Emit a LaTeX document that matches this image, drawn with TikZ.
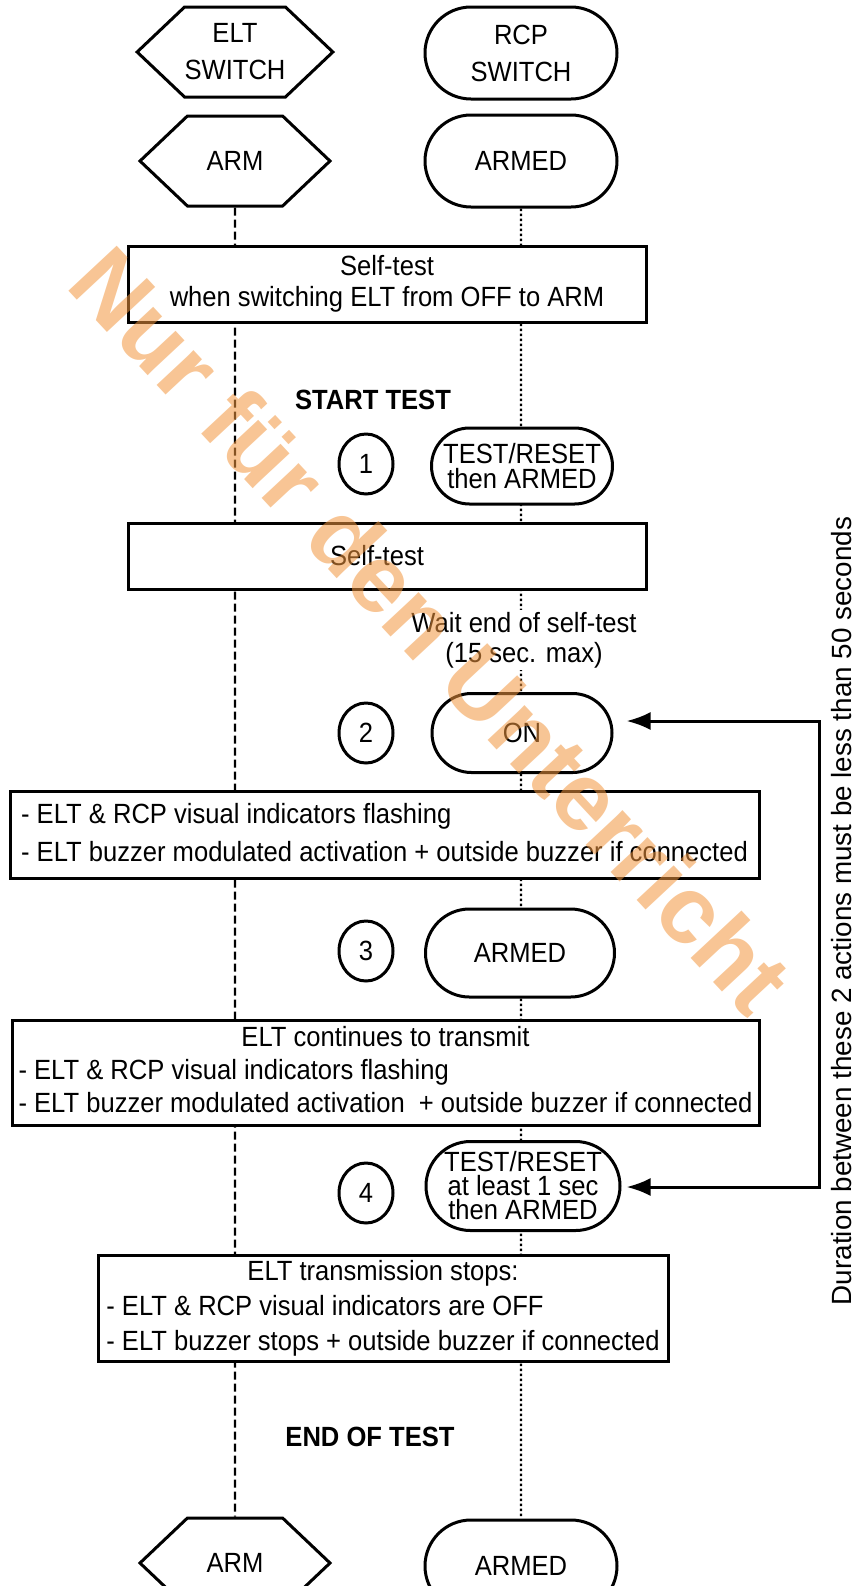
\documentclass[tikz,border=0pt]{standalone}
\usepackage{fontspec}
\setmainfont{Liberation Sans}[FakeStretch=0.92]
\newfontfamily\plainfont{Liberation Sans}
\usetikzlibrary{arrows.meta,positioning,backgrounds,shapes.symbols,shapes.misc,shapes.geometric}
\definecolor{stamp}{RGB}{242,150,62}

\begin{document}
\begin{tikzpicture}[
    x=0.5pt, y=-0.5pt,
    >={Latex[length=12pt,width=9pt]},
    font=\fontsize{13.9}{16.5}\selectfont,
    line width=1.5pt,
    hexa/.style={
		signal,
		signal to=west and east,
		signal pointer angle=87,
		draw=black,
		fill=white,
		align=center,
		inner sep=0pt,
		minimum width=95pt,
		minimum height=45pt
	},
    pill/.style={
		rounded rectangle,
		draw=black,
		fill=white,
		align=center,
		inner sep=0pt,
		minimum width=96pt,
		minimum height=46pt
	},
    stepbox/.style={
		rectangle,
		draw=black,
		fill=white,
		inner sep=0pt
	},
    num/.style={
		ellipse,
		draw=black,
		fill=white,
		inner sep=0pt,
		minimum width=27pt,
		minimum height=30pt
	},
    title/.style={
		font=\fontsize{13.9}{16.5}\selectfont\bfseries
	},
    eltline/.style={
		line width=1.1pt,
		dash pattern=on 4pt off 2pt
	},
    rcpline/.style={
		line width=1.1pt,
		dash pattern=on 1.3pt off 1.2pt
	}
  ]
  \useasboundingbox (0,0) rectangle (855,1586);
  \clip (0,0) rectangle (855,1586);

    % switch headers and start positions
  \node [hexa, font=\fontsize{13.9}{18.5}\selectfont] (eltsw) at (235,52) {ELT\\SWITCH};
  \node [pill, font=\fontsize{13.9}{18.5}\selectfont] (rcpsw) at (521,53) {RCP\\SWITCH};
  \node [hexa] (eltarm) at (235,161) {ARM};
  \node [pill] (rcparm) at (521,161) {ARMED};

  \node [stepbox, minimum width=259pt, minimum height=38pt, align=center,
         font=\fontsize{13.9}{15.5}\selectfont] (selftest1) at (387,284)
 {Self-test\\when switching ELT from OFF to ARM};

  \node [title] (start) at (373,400) {START TEST};

    % step 1
  \node [num] (n1) at (366,464) {1};
  \node [pill, minimum width=90.5pt, minimum height=38pt,
         font=\fontsize{13.9}{12.5}\selectfont] (reset1) at (522,466) {TEST/RESET\\then ARMED};

  \node [stepbox, minimum width=259pt, minimum height=33pt] (selftest2) at (387,556)
 {Self-test\hspace*{10pt}};

  \node [fill=white, inner sep=1pt, align=center,
         font=\fontsize{13.9}{15}\selectfont] (wait) at (524,640)
 {Wait end of self-test\\(15 sec. max)};

    % step 2
  \node [num] (n2) at (366,733) {2};
  \node [pill, minimum width=90pt, minimum height=39.5pt] (on) at (522,733) {ON};

  \node [stepbox, minimum width=374.5pt, minimum height=43.5pt,
         font=\fontsize{13.9}{19}\selectfont] (flash1) at (384.5,834.5)
 {%
 \begin{tabular}{@{}l@{}}
  - ELT \& RCP visual indicators flashing\\
  - ELT buzzer modulated activation + outside buzzer if connected
 \end{tabular}
 };

    % step 3
  \node [num] (n3) at (366,951) {3};
  \node [pill, minimum width=94.5pt, minimum height=44pt] (armed3) at (520,953) {ARMED};

  \node [stepbox, minimum width=373.5pt, minimum height=52.5pt,
         font=\fontsize{13.9}{16.5}\selectfont] (flash2) at (385.5,1072.5)
 {%
 \begin{tabular}{@{}l@{}}
  \multicolumn{1}{c}{ELT continues to transmit}\\
  - ELT \& RCP visual indicators flashing\\
  - ELT buzzer modulated activation~ + outside buzzer if connected
 \end{tabular}
 };

    % step 4
  \node [num] (n4) at (366,1193) {4};
  \node [pill, minimum width=97pt, minimum height=44.5pt,
         font=\fontsize{13.9}{12}\selectfont] (reset4) at (523,1186)
 {TEST/RESET\\at least 1 sec\\then ARMED};

  \node [stepbox, minimum width=285pt, minimum height=53pt,
         font=\fontsize{13.9}{17.5}\selectfont] (stops) at (383,1308)
 {%
 \begin{tabular}{@{}l@{}}
  \multicolumn{1}{c}{ELT transmission stops:}\\
  - ELT \& RCP visual indicators are OFF\\
  - ELT buzzer stops + outside buzzer if connected
 \end{tabular}
 };

  \node [title] (end) at (370,1437) {END OF TEST};

  \node [hexa] (eltend) at (235,1563) {ARM};
  \node [pill] (rcpend) at (521,1566) {ARMED};

    % life lines behind the blocks
  \begin{scope}[on background layer]
   \draw [eltline] (eltarm) -- (eltend);
   \draw [rcpline] (rcparm) -- (rcpend);
  \end{scope}

    % duration between step 2 and step 4
  \coordinate (brk1) at (819,721);
  \coordinate (brk2) at (819,1187);
  \draw [<->, shorten <=6.5pt, shorten >=2.5pt] (on.east |- brk1) -- (brk1) -- (brk2) -- (reset4.east |- brk2);
  \node [rotate=90, inner sep=1pt, font=\plainfont\fontsize{13.9}{16}\selectfont] (duration) at (842,911)
 {Duration between these 2 actions must be less than 50 seconds};

  \node [rotate=-47, text=stamp, opacity=0.55,
         font=\plainfont\bfseries\fontsize{48}{58}\selectfont] (stampnote) at (432,630)
 {Nur für den Unterricht};

\end{tikzpicture}
\end{document}
